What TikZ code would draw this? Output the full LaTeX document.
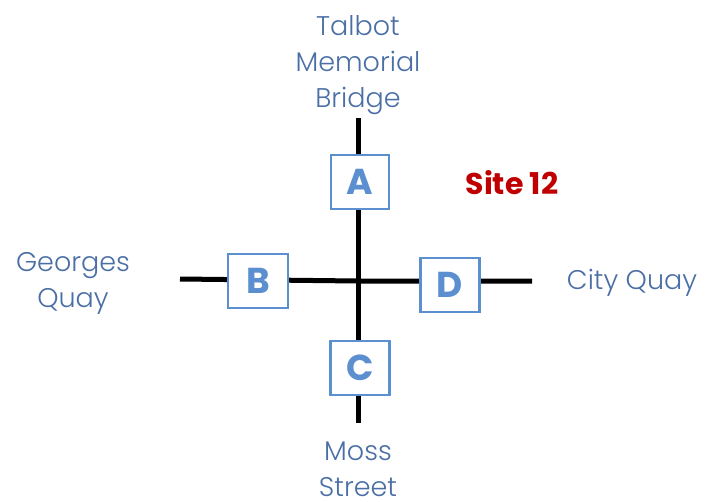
\documentclass[tikz,border=0pt]{standalone}
\usepackage{fontspec}
\setmainfont{Poppins}
\newfontfamily\lightfont{Poppins Light}
\definecolor{boxblue}{HTML}{5B8FD0}
\definecolor{labelblue}{HTML}{4A6FA5}
\definecolor{sitered}{HTML}{C00000}
\begin{document}
\begin{tikzpicture}[x=1pt,y=-1pt,
  road/.style={line width=5pt,black},
  sitebox/.style={draw=boxblue,line width=2.6pt,fill=white,inner sep=0pt,
    text=boxblue,font=\fontsize{36}{36}\selectfont\bfseries},
  place/.style={text=labelblue,align=center,font=\lightfont\fontsize{27}{36}\selectfont}]
\useasboundingbox (0,0) rectangle (709,501);
\coordinate (top) at (358,118);
\coordinate (bottom) at (358,423);
\coordinate (left) at (180,279);
\coordinate (right) at (532,281);
\coordinate (mid) at (358,281);
\draw[road] (top) -- (bottom);
\draw[road] (left) -- (mid) -- (right);
\node[sitebox,minimum width=58pt,minimum height=54pt] (A) at (360,182) {A};
\node[sitebox,minimum width=60pt,minimum height=54pt] (B) at (258,281) {B};
\node[sitebox,minimum width=59pt,minimum height=54pt] (C) at (360,368) {C};
\node[sitebox,minimum width=59pt,minimum height=54pt] (D) at (450,285) {D};
\node[place] (tmb) at (358,65) {Talbot\\Memorial\\Bridge};
\node[place] (gq) at (73,283) {Georges\\Quay};
\node[place] (cq) at (632,283) {City Quay};
\node[place] (ms) at (358,469) {Moss\\Street};
\node[text=sitered,font=\fontsize{30}{30}\selectfont\bfseries] (site) at (512,183) {Site 12};
\end{tikzpicture}
\end{document}
